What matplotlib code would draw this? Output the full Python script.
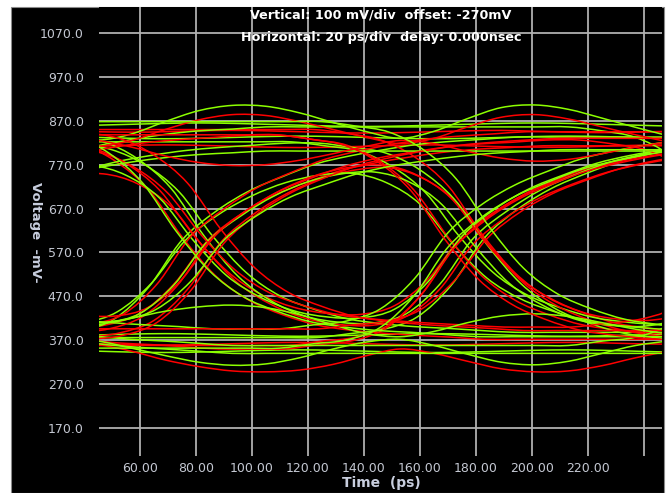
import numpy as np
import matplotlib
matplotlib.use("Agg")
import matplotlib.pyplot as plt
from matplotlib.path import Path
from matplotlib.patches import PathPatch, Rectangle
from matplotlib import font_manager as fm

# ---------------- data ----------------
time_ps = [33, 45, 57, 69, 81, 93, 105, 117, 129, 141,
           153, 165, 177, 189, 201, 213, 225, 237, 249, 261]

y_ticks = [170, 270, 370, 470, 570, 670, 770, 870, 970, 1070]
y_tick_labels = ["170.0", "270.0", "370.0", "470.0", "570.0",
                 "670.0", "770.0", "870.0", "970.0", "1070.0"]
x_ticks = [60, 80, 100, 120, 140, 160, 180, 200, 220, 240]
x_tick_labels = ["60.00", "80.00", "100.00", "120.00", "140.00",
                 "160.00", "180.00", "200.00", "220.00", ""]

# red traces (mV at each time_ps sample)
red_traces = [
    [846, 845, 844, 845, 847, 848, 847, 845, 843, 842, 843, 845, 847, 848, 846, 844, 843, 844, 846, 847],
    [810, 812, 814, 815, 814, 812, 810, 809, 810, 812, 814, 815, 813, 811, 810, 810, 812, 814, 815, 814],
    [364, 362, 360, 359, 360, 362, 364, 365, 364, 362, 360, 359, 360, 362, 364, 365, 364, 362, 361, 360],
    [831, 817, 779, 714, 606, 517, 461, 428, 405, 393, 386, 381, 377, 372, 372, 372, 372, 372, 372, 372],
    [397, 405, 431, 497, 596, 657, 700, 731, 757, 774, 787, 798, 805, 809, 813, 813, 813, 813, 813, 813],
    [850, 850, 850, 850, 850, 850, 850, 850, 841, 826, 788, 722, 613, 523, 466, 433, 409, 397, 390, 385],
    [358, 358, 358, 358, 358, 358, 358, 358, 368, 377, 406, 478, 587, 654, 702, 736, 764, 783, 798, 810],
    [821, 808, 773, 712, 611, 528, 475, 445, 431, 429, 449, 510, 607, 664, 707, 738, 764, 782, 795, 806],
    [377, 387, 415, 486, 594, 659, 706, 739, 758, 763, 739, 685, 584, 500, 448, 415, 392, 380, 373, 368],
    [776, 795, 809, 820, 827, 832, 837, 837, 827, 814, 776, 711, 605, 517, 461, 428, 405, 394, 387, 382],
    [744, 749, 727, 675, 580, 500, 451, 420, 406, 404, 424, 486, 589, 651, 695, 727, 753, 771, 784, 796],
    [427, 425, 445, 509, 609, 669, 714, 746, 764, 769, 746, 694, 596, 514, 464, 432, 418, 416, 436, 509],
    [383, 372, 364, 360, 355, 350, 350, 350, 360, 369, 398, 470, 579, 646, 694, 728, 756, 775, 790, 802],
    [810, 797, 764, 705, 609, 530, 479, 450, 429, 419, 413, 408, 404, 400, 400, 400, 408, 417, 442, 505],
    [409, 407, 429, 497, 605, 669, 718, 752, 782, 801, 816, 828, 835, 840, 845, 845, 845, 845, 845, 845],
    [387, 396, 424, 492, 597, 661, 707, 739, 766, 785, 798, 810, 817, 821, 826, 826, 817, 803, 766, 702],
    [815, 812, 825, 850, 872, 884, 882, 868, 850, 832, 818, 830, 856, 878, 884, 874, 856, 838, 822, 815],
    [365, 360, 345, 325, 310, 300, 298, 302, 315, 335, 350, 340, 322, 305, 298, 300, 312, 330, 345, 355],
    [830, 825, 810, 790, 775, 768, 770, 780, 795, 812, 825, 818, 800, 785, 778, 782, 795, 810, 822, 828],
    [843, 829, 792, 728, 622, 535, 479, 447, 424, 413, 406, 401, 397, 392, 392, 392, 392, 392, 392, 392],
    [372, 381, 410, 482, 591, 658, 706, 740, 768, 787, 802, 814, 821, 826, 830, 830, 830, 830, 830, 830],
    [838, 838, 838, 838, 838, 838, 838, 838, 828, 814, 776, 709, 599, 508, 451, 417, 393, 382, 374, 370],
    [396, 396, 396, 396, 396, 396, 396, 396, 405, 413, 439, 504, 602, 663, 706, 736, 762, 779, 792, 802],
]
red_jitter = [0, 0, 0, -6, 3, 5, -4, -2, 8, -7, 2, 6, -5, 1, -3, 4, 0, 0, 0, 8, 9, -8, 7]

# green traces (mV at each time_ps sample)
green_traces = [
    [833, 832, 830, 829, 830, 832, 834, 835, 834, 832, 830, 829, 830, 832, 834, 835, 834, 832, 830, 829],
    [858, 860, 862, 864, 865, 864, 862, 860, 858, 857, 858, 860, 862, 864, 865, 864, 862, 860, 858, 857],
    [380, 382, 384, 385, 384, 382, 380, 379, 380, 382, 384, 385, 384, 382, 380, 379, 380, 382, 384, 385],
    [347, 345, 343, 342, 343, 345, 347, 348, 347, 345, 343, 342, 343, 345, 347, 348, 347, 345, 343, 342],
    [817, 804, 769, 708, 607, 524, 471, 441, 419, 408, 401, 397, 392, 388, 388, 388, 388, 388, 388, 388],
    [381, 391, 419, 490, 598, 663, 710, 743, 772, 790, 804, 816, 823, 828, 833, 833, 833, 833, 833, 833],
    [822, 822, 822, 822, 822, 822, 822, 822, 813, 801, 766, 706, 607, 525, 474, 444, 422, 411, 405, 401],
    [376, 376, 376, 376, 376, 376, 376, 376, 385, 395, 423, 494, 603, 669, 716, 749, 777, 796, 810, 822],
    [836, 822, 784, 717, 607, 516, 459, 425, 411, 409, 430, 497, 602, 664, 712, 746, 774, 793, 808, 820],
    [401, 409, 435, 499, 596, 656, 699, 729, 746, 750, 729, 680, 588, 511, 464, 435, 413, 403, 396, 392],
    [758, 777, 791, 802, 809, 814, 819, 819, 809, 796, 758, 693, 587, 499, 443, 410, 387, 376, 369, 364],
    [764, 768, 746, 694, 598, 517, 468, 437, 423, 421, 441, 504, 607, 670, 715, 746, 773, 791, 804, 815],
    [413, 411, 431, 495, 594, 653, 699, 731, 749, 753, 731, 678, 581, 499, 449, 417, 404, 402, 422, 495],
    [391, 379, 372, 368, 363, 358, 358, 358, 358, 358, 358, 358, 358, 358, 358, 358, 368, 377, 406, 477],
    [793, 813, 827, 839, 847, 851, 856, 856, 856, 856, 856, 856, 856, 856, 856, 856, 847, 832, 793, 725],
    [428, 417, 410, 405, 401, 396, 396, 396, 405, 414, 442, 510, 615, 679, 724, 756, 784, 802, 816, 827],
    [838, 826, 840, 868, 893, 905, 903, 888, 866, 845, 830, 846, 875, 900, 906, 896, 876, 855, 836, 825],
    [372, 368, 352, 335, 320, 313, 316, 330, 350, 366, 372, 358, 338, 320, 314, 322, 340, 358, 368, 372],
    [746, 763, 776, 786, 793, 797, 801, 801, 801, 801, 801, 801, 801, 801, 801, 801, 801, 801, 801, 801],
    [374, 362, 355, 350, 345, 340, 340, 340, 340, 340, 340, 340, 340, 340, 340, 340, 340, 340, 340, 340],
    [395, 405, 420, 436, 446, 450, 444, 428, 405, 385, 378, 390, 410, 425, 430, 424, 410, 395, 385, 382],
    [848, 834, 796, 728, 618, 527, 469, 436, 412, 400, 392, 388, 383, 378, 378, 378, 378, 378, 378, 378],
    [408, 416, 441, 503, 598, 655, 697, 725, 750, 767, 779, 789, 796, 800, 804, 804, 804, 804, 804, 804],
    [868, 868, 868, 868, 868, 868, 868, 868, 858, 844, 805, 737, 626, 534, 476, 442, 418, 406, 399, 394],
    [352, 352, 352, 352, 352, 352, 352, 352, 362, 371, 400, 472, 582, 650, 698, 731, 760, 779, 794, 806],
]
green_jitter = [0, 0, 0, 0, 5, -6, -3, 6, 2, -5, 7, -2, 3, 0, 0, -7, 0, 0, 0, 0, 0, -8, 9, 8, -7]

title_lines = ["Vertical: 100 mV/div  offset: -270mV",
               "Horizontal: 20 ps/div  delay: 0.000nsec"]
x_label = "Time  (ps)"
y_label = "Voltage  -mV-"

# ---------------- styling ----------------
avail = {f.name for f in fm.fontManager.ttflist}
narrow = "Liberation Sans Narrow" if "Liberation Sans Narrow" in avail else "DejaVu Sans"
title_size = 10.5 if narrow != "DejaVu Sans" else 9.2

W, H = 666, 493
fig = plt.figure(figsize=(W / 100, H / 100), dpi=100, facecolor="white")

# black instrument panel (behind everything)
panel = Rectangle((11 / W, 0), (664 - 11) / W, (H - 7) / H,
                  transform=fig.transFigure, facecolor="black",
                  edgecolor="#8a8a8a", linewidth=0.8, zorder=-10)
fig.patches.append(panel)

ax = fig.add_axes([99 / W, (H - 456) / H, (662 - 99) / W, (456 - 7) / H])
ax.set_zorder(1)
ax.set_facecolor("black")
ax.set_xlim(45.4, 246.4)
ax.set_ylim(106.2, 1129.2)
for s in ax.spines.values():
    s.set_visible(False)

ax.set_xticks(x_ticks)
ax.set_xticklabels(x_tick_labels)
ax.set_yticks(y_ticks)
ax.set_yticklabels(y_tick_labels)
ax.tick_params(axis="both", length=0, colors="#c4c8d2", labelsize=9)
ax.tick_params(axis="y", pad=11)
ax.tick_params(axis="x", pad=4)
ax.grid(True, color="#b0b0b0", linewidth=1.3, zorder=1)
ax.set_axisbelow(True)


def smooth_path(xs, ys):
    pts = np.column_stack([xs, ys]).astype(float)
    n = len(pts)
    verts = [pts[0]]
    codes = [Path.MOVETO]
    for i in range(n - 1):
        p0 = pts[max(i - 1, 0)]
        p1 = pts[i]
        p2 = pts[i + 1]
        p3 = pts[min(i + 2, n - 1)]
        verts += [p1 + (p2 - p0) / 6.0, p2 - (p3 - p1) / 6.0, p2]
        codes += [Path.CURVE4] * 3
    return Path(verts, codes)


RED = "#ff0000"
GREEN = "#8cff00"
t = np.array(time_ps, dtype=float)
n = max(len(red_traces), len(green_traces))
z = 2
for i in range(n):
    if i < len(green_traces):
        ax.add_patch(PathPatch(smooth_path(t + green_jitter[i], green_traces[i]),
                               fill=False, edgecolor=GREEN, linewidth=1.1, zorder=z))
        z += 0.01
    if i < len(red_traces):
        ax.add_patch(PathPatch(smooth_path(t + red_jitter[i], red_traces[i]),
                               fill=False, edgecolor=RED, linewidth=1.1, zorder=z))
        z += 0.01

# header text
fig.text(381 / W, 1 - 15.5 / H, title_lines[0], ha="center", va="center",
         color="white", fontsize=title_size, fontweight="bold", family=narrow, zorder=5)
fig.text(381 / W, 1 - 38 / H, title_lines[1], ha="center", va="center",
         color="white", fontsize=title_size, fontweight="bold", family=narrow, zorder=5)

# axis labels
fig.text(381 / W, 1 - 483 / H, x_label, ha="center", va="center",
         color="#c8cede", fontsize=10, fontweight="bold", zorder=5)
fig.text(35 / W, 1 - 232 / H, y_label, ha="center", va="center", rotation=-90,
         color="#c8cede", fontsize=9.5, fontweight="bold", zorder=5)

fig.savefig("out.png", dpi=100, facecolor="white")
